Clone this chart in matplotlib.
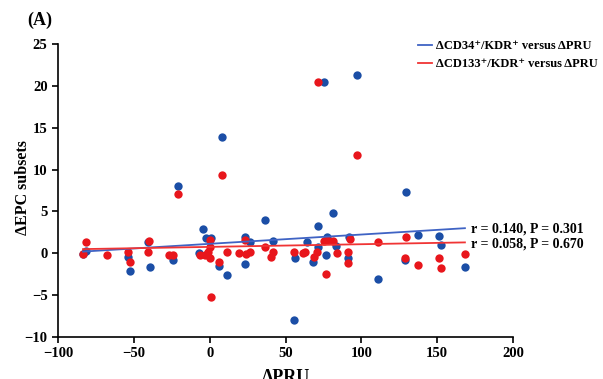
import matplotlib.pyplot as plt
import numpy as np
from matplotlib.lines import Line2D

plt.rcParams["font.family"] = ["Liberation Serif", "DejaVu Serif"]
plt.rcParams["font.weight"] = "bold"

BLUE = "#1b4ea6"
RED = "#e8161c"
BLUE_LINE = "#3f63c4"
RED_LINE = "#f03434"

# dCD34+/KDR+ vs dPRU
cd34_x = [-83.5, -81.5, -53.8, -52.5, -40.9, -39.3, -24.4, -20.7, -6.9, -4.6,
          -2.4, 0.7, 6.3, 8.3, 11.6, 23.3, 23.3, 26.6, 36.5, 41.5,
          55.6, 56.2, 64.3, 68.3, 71.6, 71.6, 75.6, 76.7, 77.5, 81.1,
          83.3, 91.4, 92.1, 97.3, 111.2, 128.8, 129.2, 137.1, 151.4, 152.3,
          168.3]
cd34_y = [-0.1, 0.3, -0.4, -2.1, 1.3, -1.6, -0.75, 8.0, 0.0, 2.9,
          1.8, 1.8, -1.5, 13.85, -2.6, 1.9, -1.3, 1.4, 4.0, 1.5,
          -8.0, -0.6, 1.3, -1.1, 3.3, 0.8, 20.5, -0.2, 1.9, 4.8,
          0.9, -0.6, 1.9, 21.3, -3.1, -0.8, 7.3, 2.2, 2.1, 1.0,
          -1.6]

# dCD133+/KDR+ vs dPRU
cd133_x = [-83.5, -81.5, -67.5, -53.6, -52.5, -40.5, -39.8, -26.6, -24.4, -20.7,
           -6.4, -3.1, -1.0, 0.2, 0.2, 0.2, 0.7, 6.3, 8.3, 11.6,
           19.5, 23.3, 23.9, 26.6, 36.5, 40.2, 41.5, 55.6, 61.7, 62.8,
           68.8, 71.0, 71.2, 75.4, 76.7, 77.5, 81.1, 83.7, 91.4, 91.4,
           92.5, 97.3, 111.2, 128.8, 129.2, 137.1, 151.4, 152.3, 168.3]
cd133_y = [-0.1, 1.3, -0.2, 0.1, -1.0, 0.1, 1.5, -0.2, -0.2, 7.1,
           -0.2, -0.2, 0.1, 1.6, 0.8, -0.6, -5.2, -1.0, 9.4, 0.2,
           0.0, 1.6, -0.1, 0.2, 0.7, -0.4, 0.1, 0.15, 0.0, 0.1,
           -0.4, 0.2, 20.5, 1.5, -2.5, 1.6, 1.45, 0.0, 0.1, -1.2,
           1.65, 11.7, 1.3, -0.6, 2.0, -1.35, -0.6, -1.7, -0.1]

# fitted regression lines (slope, intercept)
cd34_fit = (0.0111, 1.13)
cd133_fit = (0.00318, 0.765)

labels = ["\u0394CD34\u207a/KDR\u207a versus \u0394PRU",
          "\u0394CD133\u207a/KDR\u207a versus \u0394PRU"]
stats = ["r = 0.140, P = 0.301", "r = 0.058, P = 0.670"]

fig = plt.figure(figsize=(6.03, 3.79), dpi=100)
ax = fig.add_axes([58 / 603, 1 - 337 / 379, 455 / 603, 293 / 379])

ax.scatter(cd34_x, cd34_y, s=36, color=BLUE, zorder=3, linewidths=0)
ax.scatter(cd133_x, cd133_y, s=36, color=RED, zorder=4, linewidths=0)

xx = np.array([min(cd34_x), max(cd34_x)])
ax.plot(xx, cd34_fit[0] * xx + cd34_fit[1], color=BLUE_LINE, lw=1.3, zorder=5)
ax.plot(xx, cd133_fit[0] * xx + cd133_fit[1], color=RED_LINE, lw=1.3, zorder=5)

ax.text(172, 2.85, stats[0], fontsize=10, fontweight="bold", va="center")
ax.text(172, 1.15, stats[1], fontsize=10, fontweight="bold", va="center")

ax.set_xlim(-100, 200)
ax.set_ylim(-10, 25)
ax.set_xticks(range(-100, 201, 50))
ax.set_yticks(range(-10, 26, 5))
ax.spines["top"].set_visible(False)
ax.spines["right"].set_visible(False)
ax.spines["left"].set_linewidth(1.2)
ax.spines["bottom"].set_linewidth(1.2)
ax.tick_params(labelsize=10.5, width=1.2, length=4)
for lab in ax.get_xticklabels() + ax.get_yticklabels():
    lab.set_fontweight("bold")

ax.set_xlabel("\u0394PRU", fontsize=13, fontweight="bold", labelpad=6)
ax.set_ylabel("\u0394EPC subsets", fontsize=11.5, fontweight="bold")
ax.yaxis.set_label_coords(-0.06, 0.51)

fig.text(40 / 603, 1 - 20 / 379, "(A)", fontsize=13, fontweight="bold",
         ha="center", va="center")

handles = [Line2D([], [], color=BLUE_LINE, lw=1.3),
           Line2D([], [], color=RED_LINE, lw=1.3)]
fig.legend(handles, labels, loc="upper left", bbox_to_anchor=(418 / 603, 1 - 40 / 379),
           frameon=False, fontsize=9, handlelength=1.1, handletextpad=0.3,
           labelspacing=0.5, borderaxespad=0, borderpad=0)

fig.savefig("out.png", dpi=100)
